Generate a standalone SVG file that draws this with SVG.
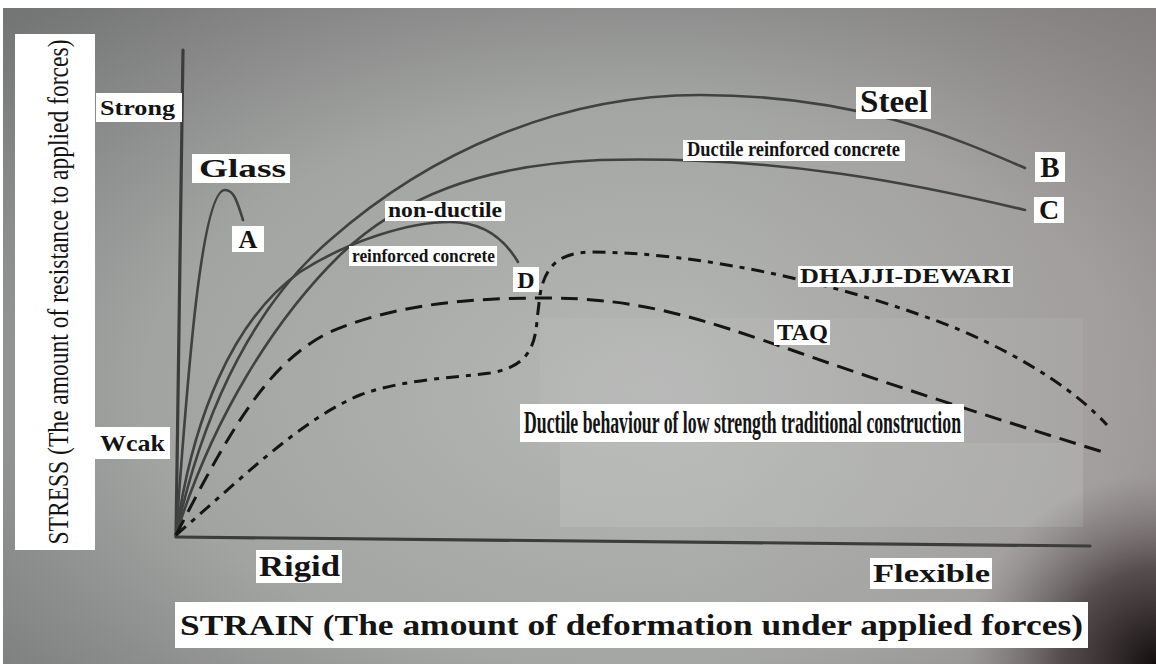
<svg xmlns="http://www.w3.org/2000/svg" width="1156" height="664" viewBox="0 0 1156 664">
  <defs>
    <radialGradient id="bg" cx="0.55" cy="0.58" r="0.78">
      <stop offset="0" stop-color="#b6b8b6"/>
      <stop offset="0.55" stop-color="#a4a6a4"/>
      <stop offset="1" stop-color="#707070"/>
    </radialGradient>
    <linearGradient id="tint" x1="0" y1="0" x2="1" y2="0">
      <stop offset="0" stop-color="#8a9090" stop-opacity="0.15"/>
      <stop offset="0.6" stop-color="#a09898" stop-opacity="0"/>
      <stop offset="1" stop-color="#9a8a8a" stop-opacity="0.35"/>
    </linearGradient>
    <radialGradient id="corner" cx="1156" cy="664" r="190" gradientUnits="userSpaceOnUse">
      <stop offset="0" stop-color="#140e0e" stop-opacity="1"/>
      <stop offset="0.5" stop-color="#3a3030" stop-opacity="0.7"/>
      <stop offset="1" stop-color="#6a6060" stop-opacity="0"/>
    </radialGradient>
    <style>
      .box { fill: #ffffff; }
      .lbl { font-family: "Liberation Serif", "Times New Roman", serif; font-weight: bold; fill: #141414; }
      .reg { font-family: "Liberation Serif", "Times New Roman", serif; font-weight: normal; fill: #141414; }
      .axis { fill: none; stroke: #3c3c3c; stroke-width: 3.2; stroke-linecap: round; }
      .solid { fill: none; stroke: #404242; stroke-width: 2.6; stroke-linecap: round; }
      .taq { fill: none; stroke: #151515; stroke-width: 3; stroke-dasharray: 17 9; }
      .dhajji { fill: none; stroke: #151515; stroke-width: 3; stroke-dasharray: 13 7 5 7; }
    </style>
  </defs>

  <g id="background">
    <rect width="1156" height="664" fill="#ffffff"/>
    <rect x="3" y="8" width="1153" height="656" fill="url(#bg)"/>
    <rect x="3" y="8" width="1153" height="656" fill="url(#tint)"/>
    <rect x="540" y="318" width="543" height="125" fill="#c6c8c6" opacity="0.15"/>
    <rect x="560" y="443" width="523" height="84" fill="#c8cac8" opacity="0.3"/>
    <rect x="3" y="8" width="1153" height="656" fill="url(#corner)"/>
  </g>

  <g id="axes">
    <path class="axis" d="M183,50 L176,536"/>
    <path class="axis" d="M176,537 L1090,546"/>
  </g>

  <g id="curves">
    <path id="glass-curve" class="solid" d="M176,535 C186,400 200,190 225,190 C235,190 238,205 243,220"/>
    <path id="steel-curve" class="solid" d="M176,535 C205,400 260,300 330,240 C430,152 560,95 700,95 C860,95 960,140 1025,168"/>
    <path id="ductile-rc-curve" class="solid" d="M176,535 C212,420 272,322 340,255 C400,198 480,165 600,160 C780,155 920,185 1025,210"/>
    <path id="nonductile-rc-curve" class="solid" d="M176,535 C192,420 232,320 300,272 C350,240 410,222 450,222 C485,222 505,240 518,262"/>
    <path id="taq-curve" class="taq" d="M176,535 C230,430 268,362 330,332 C400,302 480,298 545,298 C640,298 700,318 800,353 C900,388 1000,420 1103,452"/>
    <path id="dhajji-curve" class="dhajji" d="M176,535 C240,480 300,420 360,395 C400,380 450,378 490,373 C520,368 535,355 537,320 L540,295 C545,265 560,253 590,252 C700,252 850,285 960,330 C1030,360 1080,395 1107,425"/>
  </g>

  <g id="y-title">
    <rect class="box" x="15" y="34" width="80" height="516"/>
    <text class="reg" x="0" y="0" font-size="30" text-anchor="middle" dominant-baseline="central" textLength="505" lengthAdjust="spacingAndGlyphs" transform="translate(57,292) rotate(-90)">STRESS (The amount of resistance to applied forces)</text>
  </g>

  <g id="strong">
    <rect class="box" x="96" y="93" width="86" height="29"/>
    <text class="lbl" x="100" y="115" font-size="21" textLength="75" lengthAdjust="spacingAndGlyphs">Strong</text>
  </g>
  <g id="weak">
    <rect class="box" x="95" y="427" width="75" height="32"/>
    <text class="lbl" x="100" y="451" font-size="24" textLength="65" lengthAdjust="spacingAndGlyphs">Wcak</text>
  </g>
  <g id="glass">
    <rect class="box" x="192" y="154" width="98" height="29"/>
    <text class="lbl" x="199" y="177" font-size="26" textLength="87" lengthAdjust="spacingAndGlyphs">Glass</text>
  </g>
  <g id="label-a">
    <rect class="box" x="232" y="226" width="32" height="26"/>
    <text class="lbl" x="248" y="248" font-size="26" text-anchor="middle">A</text>
  </g>
  <g id="non-ductile">
    <rect class="box" x="385" y="201" width="120" height="20"/>
    <text class="lbl" x="388" y="217" font-size="20" textLength="114" lengthAdjust="spacingAndGlyphs">non-ductile</text>
  </g>
  <g id="reinforced-concrete">
    <rect class="box" x="349" y="246" width="148" height="20"/>
    <text class="lbl" x="352" y="262" font-size="18" textLength="143" lengthAdjust="spacingAndGlyphs">reinforced concrete</text>
  </g>
  <g id="label-d">
    <rect class="box" x="513" y="267" width="26" height="25"/>
    <text class="lbl" x="526" y="288" font-size="24" text-anchor="middle">D</text>
  </g>
  <g id="steel">
    <rect class="box" x="856" y="87" width="75" height="32"/>
    <text class="lbl" x="860" y="112" font-size="32" textLength="68" lengthAdjust="spacingAndGlyphs">Steel</text>
  </g>
  <g id="ductile-rc">
    <rect class="box" x="683" y="140" width="222" height="21"/>
    <text class="lbl" x="687" y="156" font-size="20" textLength="213" lengthAdjust="spacingAndGlyphs">Ductile reinforced concrete</text>
  </g>
  <g id="label-b">
    <rect class="box" x="1035" y="152" width="30" height="30"/>
    <text class="lbl" x="1050" y="177" font-size="29" text-anchor="middle">B</text>
  </g>
  <g id="label-c">
    <rect class="box" x="1034" y="197" width="30" height="26"/>
    <text class="lbl" x="1049" y="219" font-size="28" text-anchor="middle">C</text>
  </g>
  <g id="dhajji-dewari">
    <rect class="box" x="798" y="266" width="215" height="21"/>
    <text class="lbl" x="800" y="283" font-size="22" textLength="211" lengthAdjust="spacingAndGlyphs">DHAJJI-DEWARI</text>
  </g>
  <g id="taq">
    <rect class="box" x="774" y="320" width="56" height="25"/>
    <text class="lbl" x="777" y="340" font-size="23" textLength="51" lengthAdjust="spacingAndGlyphs">TAQ</text>
  </g>
  <g id="ductile-behaviour">
    <rect class="box" x="520" y="404" width="444" height="38"/>
    <text class="lbl" x="524" y="433" font-size="32" textLength="437" lengthAdjust="spacingAndGlyphs">Ductile behaviour of low strength traditional construction</text>
  </g>
  <g id="rigid">
    <rect class="box" x="256" y="550" width="86" height="33"/>
    <text class="lbl" x="259" y="576" font-size="30" textLength="81" lengthAdjust="spacingAndGlyphs">Rigid</text>
  </g>
  <g id="flexible">
    <rect class="box" x="870" y="558" width="122" height="31"/>
    <text class="lbl" x="873" y="582" font-size="26" textLength="117" lengthAdjust="spacingAndGlyphs">Flexible</text>
  </g>
  <g id="x-title">
    <rect class="box" x="175" y="602" width="913" height="46"/>
    <text class="lbl" x="180" y="635" font-size="30" textLength="903" lengthAdjust="spacingAndGlyphs">STRAIN (The amount of deformation under applied forces)</text>
  </g>
</svg>
